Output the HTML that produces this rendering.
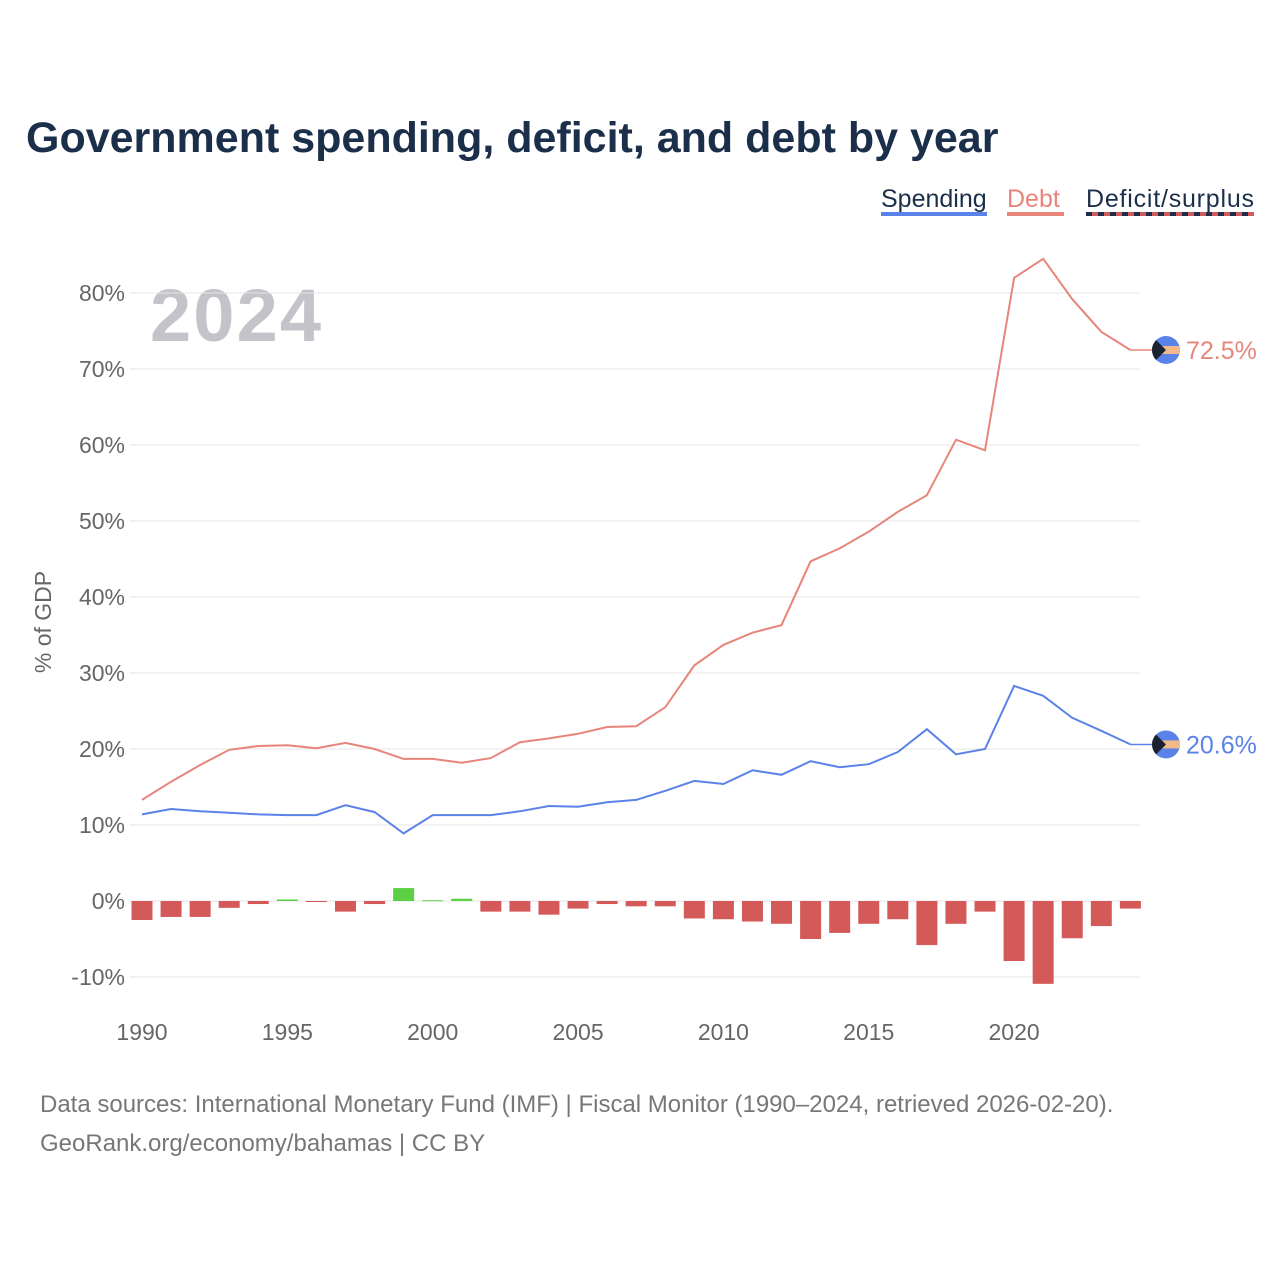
<!DOCTYPE html>
<html><head><meta charset="utf-8"><style>
body{margin:0;background:#fff;width:1280px;height:1280px;overflow:hidden;font-family:"Liberation Sans",sans-serif}
</style></head><body>
<svg width="1280" height="1280" id="svg" font-family="Liberation Sans, sans-serif">
<defs><clipPath id="fc"><circle cx="0" cy="0" r="14"/></clipPath></defs>
<text x="26" y="152" font-size="43" font-weight="bold" fill="#1b2f4b">Government spending, deficit, and debt by year</text>
<g>
<text x="881" y="207" font-size="25" fill="#1b2f4b">Spending</text>
<rect x="881" y="212" width="106" height="4" fill="#5b82e8"/>
<text x="1007" y="207" font-size="25" fill="#e8857b">Debt</text>
<rect x="1007" y="212" width="57" height="4" fill="#e8857b"/>
<text x="1086" y="207" font-size="25" fill="#1b2f4b" textLength="168">Deficit/surplus</text>
<line x1="1086" y1="214" x2="1254" y2="214" stroke="#1b2f4b" stroke-width="4"/>
<line x1="1092" y1="214" x2="1254" y2="214" stroke="#d45a5a" stroke-width="4" stroke-dasharray="6 6"/>
</g>
<text x="150" y="341" font-size="74" font-weight="bold" fill="#c3c3c9" textLength="171">2024</text>
<text transform="translate(51,622) rotate(-90)" text-anchor="middle" font-size="23" fill="#666">% of GDP</text>
<g id="grid"></g><g id="bars"></g><g id="lines"></g>
<text x="40" y="1112" font-size="24" fill="#777">Data sources: International Monetary Fund (IMF) | Fiscal Monitor (1990–2024, retrieved 2026-02-20).</text>
<text x="40" y="1151" font-size="24" fill="#777">GeoRank.org/economy/bahamas | CC BY</text>
</svg>
<script>
const years=[1990,1991,1992,1993,1994,1995,1996,1997,1998,1999,2000,2001,2002,2003,2004,2005,2006,2007,2008,2009,2010,2011,2012,2013,2014,2015,2016,2017,2018,2019,2020,2021,2022,2023,2024];
const debt=[13.3,15.7,17.9,19.9,20.4,20.5,20.1,20.8,20.0,18.7,18.7,18.2,18.8,20.9,21.4,22.0,22.9,23.0,25.5,31.0,33.7,35.3,36.3,44.7,46.4,48.6,51.2,53.4,60.7,59.3,82.0,84.5,79.2,74.9,72.5];
const spending=[11.4,12.1,11.8,11.6,11.4,11.3,11.3,12.6,11.7,8.9,11.3,11.3,11.3,11.8,12.5,12.4,13.0,13.3,14.5,15.8,15.4,17.2,16.6,18.4,17.6,18.0,19.6,22.6,19.3,20.0,28.3,27.0,24.1,22.4,20.6];
const deficit=[-2.5,-2.1,-2.1,-0.9,-0.4,0.2,-0.1,-1.4,-0.4,1.7,0.1,0.3,-1.4,-1.4,-1.8,-1.0,-0.4,-0.7,-0.7,-2.3,-2.4,-2.7,-3.0,-5.0,-4.2,-3.0,-2.4,-5.8,-3.0,-1.4,-7.9,-10.9,-4.9,-3.3,-1.0];
const yTicks=[-10,0,10,20,30,40,50,60,70,80];
const xTicks=[1990,1995,2000,2005,2010,2015,2020];
const NS='http://www.w3.org/2000/svg';
const X=y=>142+(y-1990)*29.07;
const Y=v=>901-v*7.6;
function mk(t,a,p){const e=document.createElementNS(NS,t);for(const k in a)e.setAttribute(k,a[k]);p.appendChild(e);return e;}
const grid=document.getElementById('grid'),bars=document.getElementById('bars'),lines=document.getElementById('lines');
yTicks.forEach(t=>{
 const l=mk('line',{x1:130,x2:1140,y1:Y(t),y2:Y(t),stroke:'#e6e6e6','stroke-width':1},grid);
 
 
 const tx=mk('text',{x:125,y:Y(t)+8,'text-anchor':'end','font-size':23,fill:'#666'},grid);
 tx.textContent=t+'%';
 
 
});
xTicks.forEach(t=>{
 const tx=mk('text',{x:X(t),y:1040,'text-anchor':'middle','font-size':23,fill:'#666'},grid);
 tx.textContent=t;
 
 
});
years.forEach((yr,i)=>{
 const v=deficit[i];const y0=Y(0),y1=Y(v);
 const r=mk('rect',{x:X(yr)-10.5,y:Math.min(y0,y1),width:21,height:Math.max(Math.abs(y1-y0),1),fill:v>=0?'#5ccf45':'#d45a5a'},bars);
 
 
});
function line(vals,color,name){
 const d=vals.map((v,i)=>(i?'L':'M')+X(years[i]).toFixed(1)+','+Y(v).toFixed(1)).join('');
 const p=mk('path',{d:d,fill:'none',stroke:color,'stroke-width':2},lines);
 
 
 const last=vals[vals.length-1],lx=X(years[years.length-1]),ly=Y(last);
 mk('line',{x1:lx,x2:1166,y1:ly,y2:ly,stroke:color,'stroke-width':1.5},lines);
 const g=mk('g',{transform:`translate(1166,${ly})`},lines);
 
 
 const gc=mk('g',{'clip-path':'url(#fc)'},g);
 mk('rect',{x:-14,y:-14,width:28,height:28,fill:'#5b82e8'},gc);
 mk('rect',{x:-14,y:-4,width:28,height:8,fill:'#f2b98a'},gc);
 mk('path',{d:'M-14,-14L0,0L-14,14Z',fill:'#1b2233'},gc);
 const t=mk('text',{x:1186,y:ly+9,'font-size':25,fill:color},lines);
 t.textContent=last.toFixed(1)+'%';
 
 
}
line(debt,'#e8857b','debt');
line(spending,'#5b82e8','spending');
</script>
</body></html>
